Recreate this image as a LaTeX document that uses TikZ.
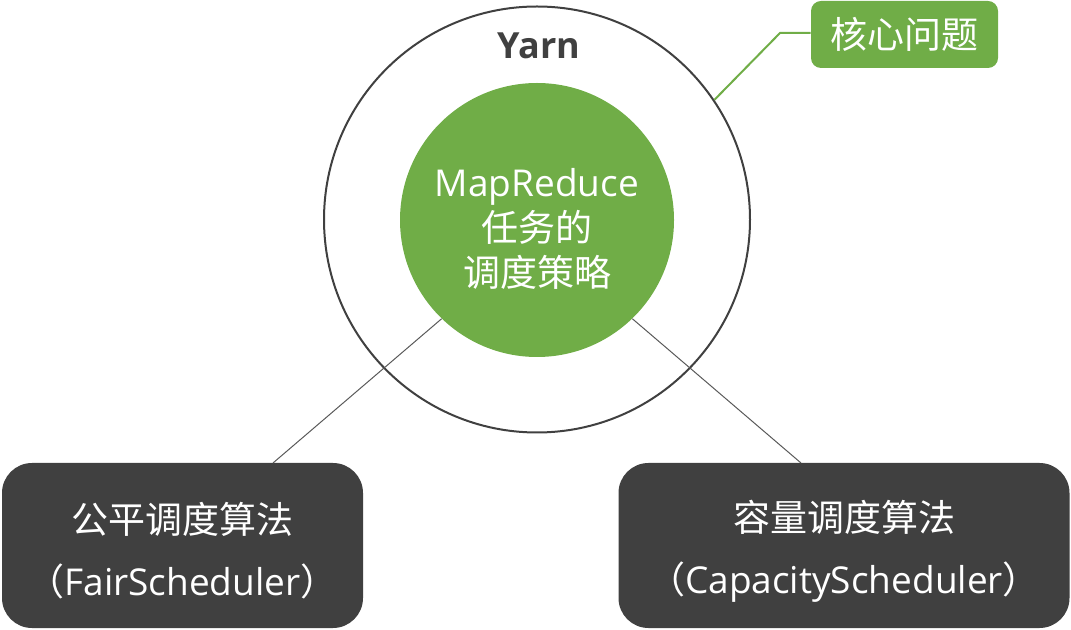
\documentclass[tikz,border=0pt]{standalone}
\usepackage{fontspec}
\setmainfont{Open Sans}
\newfontfamily\cjk{Noto Sans CJK SC}
\definecolor{leafgreen}{HTML}{70AD47}
\definecolor{darkbox}{HTML}{404040}
\definecolor{ringline}{HTML}{404040}
\definecolor{linkgray}{HTML}{595959}
\begin{document}
\begin{tikzpicture}[x=0.75pt,y=-0.75pt,
  ring/.style={circle,draw=ringline,line width=1.5pt,minimum size=319.5pt,inner sep=0pt},
  core/.style={circle,fill=leafgreen,minimum size=205.5pt,inner sep=0pt},
  coretext/.style={text=white,align=center,inner sep=0pt,
    font=\fontsize{27.75pt}{33.75pt}\selectfont},
  darkbox/.style={rectangle,rounded corners=22.5pt,fill=darkbox,
    minimum height=123.75pt,inner sep=0pt},
  boxtext/.style={text=white,align=center,inner sep=0pt,font=\fontsize{27.75pt}{46.5pt}\selectfont},
  tagbox/.style={rectangle,rounded corners=7.5pt,fill=leafgreen,text=white,
    minimum width=140.25pt,minimum height=50.25pt,inner sep=0pt,font=\cjk\fontsize{27.75pt}{33pt}\selectfont},
  link/.style={draw=linkgray,line width=0.75pt},
  taglink/.style={draw=leafgreen,line width=1.5pt}]
\useasboundingbox (0,0) rectangle (1071,630);
\node[ring] (yarn) at (537,219.5) {};
\node[font=\bfseries\fontsize{27pt}{30pt}\selectfont,text=ringline] (yarnlabel) at (539,46) {Yarn};
\node[core] (mr) at (537,220) {};
\node[coretext] (mrtext) at (537,229) {MapReduce\\{\cjk 任务的}\\{\cjk 调度策略}};
\node[tagbox] (tag) at (904.5,34.5) {核心问题};
\node[darkbox,minimum width=270.75pt] (fair) at (182.5,545.5) {};
\node[boxtext] (fairtext) at (182.5,551) {{\cjk 公平调度算法}\\{\cjk （}FairScheduler{\cjk ）}};
\node[darkbox,minimum width=338.25pt] (cap) at (844,545.5) {};
\node[boxtext] (captext) at (844,551) {{\cjk 容量调度算法}\\{\cjk （}CapacityScheduler{\cjk ）}};
\coordinate (bend) at (780,33);
\coordinate (fairtop) at (273,463);
\coordinate (captop) at (801,463);
\draw[taglink] (yarn.34.4) -- (bend) -- (tag.west |- bend);
\draw[link] (mr.226.2) -- (fairtop);
\draw[link] (mr.314.4) -- (captop);
\end{tikzpicture}
\end{document}
